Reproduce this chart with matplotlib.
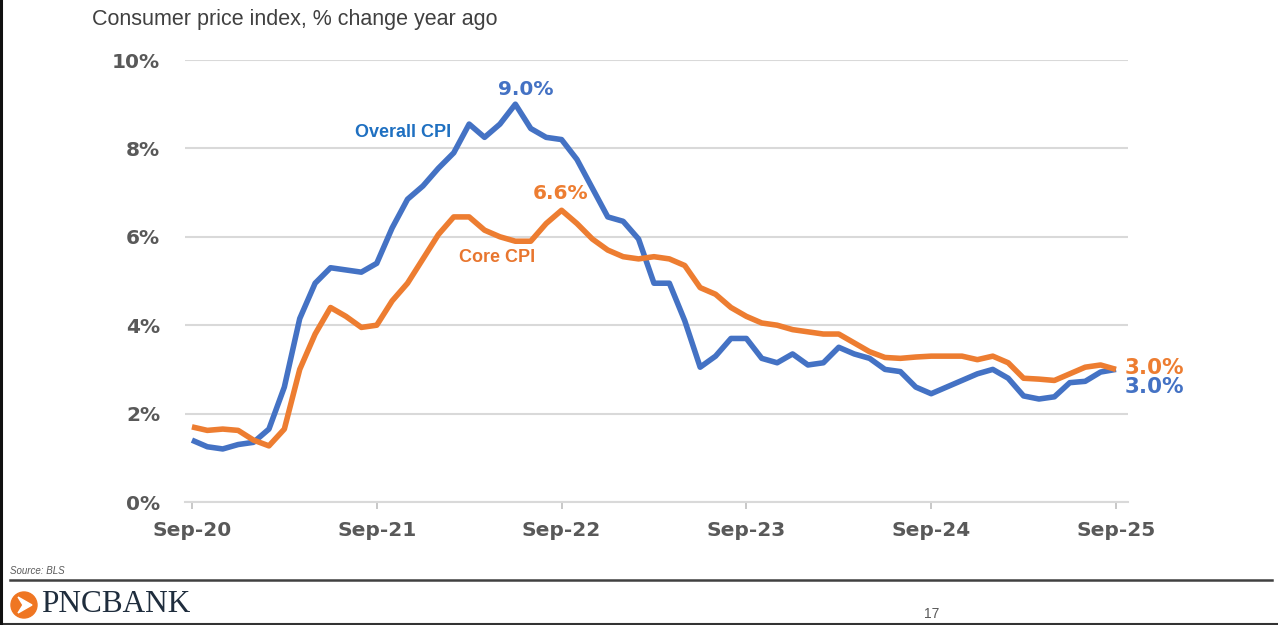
import matplotlib
matplotlib.use("Agg")
import matplotlib.pyplot as plt
from matplotlib.patches import Ellipse, Polygon
from matplotlib.lines import Line2D

# ---------------- data ----------------
months = [f"{m}-{y}" for y in range(20, 26) for m in
          ["Jan", "Feb", "Mar", "Apr", "May", "Jun", "Jul", "Aug", "Sep", "Oct", "Nov", "Dec"]]
months = months[8:8 + 61]  # Sep-20 .. Sep-25

overall_cpi = [1.4, 1.25, 1.2, 1.3, 1.35, 1.65, 2.6, 4.15, 4.95, 5.3, 5.25, 5.2,
               5.4, 6.2, 6.85, 7.15, 7.55, 7.9, 8.55, 8.25, 8.55, 9.0, 8.45, 8.25,
               8.2, 7.75, 7.1, 6.45, 6.35, 5.95, 4.95, 4.95, 4.1, 3.05, 3.3, 3.7,
               3.7, 3.25, 3.15, 3.35, 3.1, 3.15, 3.5, 3.35, 3.25, 3.0, 2.95, 2.6,
               2.45, 2.6, 2.75, 2.9, 3.0, 2.8, 2.4, 2.33, 2.38, 2.7, 2.73, 2.94,
               3.0]
core_cpi = [1.7, 1.62, 1.65, 1.62, 1.4, 1.27, 1.65, 3.0, 3.8, 4.4, 4.2, 3.95,
            4.0, 4.55, 4.95, 5.5, 6.05, 6.45, 6.45, 6.15, 6.0, 5.9, 5.9, 6.3,
            6.6, 6.3, 5.95, 5.7, 5.55, 5.5, 5.55, 5.5, 5.35, 4.85, 4.7, 4.4,
            4.2, 4.05, 4.0, 3.9, 3.85, 3.8, 3.8, 3.6, 3.4, 3.27, 3.25, 3.28,
            3.3, 3.3, 3.3, 3.22, 3.3, 3.15, 2.8, 2.78, 2.75, 2.9, 3.05, 3.1,
            3.0]

x_tick_labels = ["Sep-20", "Sep-21", "Sep-22", "Sep-23", "Sep-24", "Sep-25"]
y_ticks = [0, 2, 4, 6, 8, 10]
y_tick_labels = ["0%", "2%", "4%", "6%", "8%", "10%"]

BLUE = "#4472C4"
ORANGE = "#ED7D31"
LABEL_GRAY = "#595959"

# ---------------- figure ----------------
fig = plt.figure(figsize=(12.78, 6.25), dpi=100)
W, H = 1278, 625
ax = fig.add_axes([185 / W, (H - 502) / H, (1128 - 185) / W, (502 - 60) / H])

xs = list(range(len(months)))
ax.plot(xs, overall_cpi, color=BLUE, lw=4.0, solid_joinstyle="round",
        solid_capstyle="butt", zorder=3, clip_on=False)
ax.plot(xs, core_cpi, color=ORANGE, lw=4.0, solid_joinstyle="round",
        solid_capstyle="butt", zorder=4, clip_on=False)

ax.set_xlim(-0.45, 60.78)
ax.set_ylim(0, 10)
ax.set_yticks(y_ticks)
ax.set_yticklabels(y_tick_labels)
tick_pos = [months.index(t) for t in x_tick_labels]
ax.set_xticks(tick_pos)
ax.set_xticklabels(x_tick_labels)

ax.grid(axis="y", color="#D9D9D9", lw=1.5, zorder=0)
for s in ["top", "right", "left"]:
    ax.spines[s].set_visible(False)
ax.spines["bottom"].set_color("#D9D9D9")
ax.spines["bottom"].set_linewidth(1.5)
ax.tick_params(axis="y", length=0, pad=18, labelsize=14.5, labelcolor=LABEL_GRAY)
ax.tick_params(axis="x", length=5, width=1.2, color="#BFBFBF", pad=9,
               labelsize=14.5, labelcolor=LABEL_GRAY)
for lab in ax.get_xticklabels() + ax.get_yticklabels():
    lab.set_fontweight("bold")
    lab.set_family("DejaVu Sans")

# annotations
ax.text(21.7, 9.33, "9.0%", color=BLUE, fontsize=14.5, fontweight="bold",
        ha="center", va="center", family="DejaVu Sans")
ax.text(13.7, 8.35, "Overall CPI", color="#1F70C1", fontsize=13, fontweight="bold",
        ha="center", va="center", family="Liberation Sans")
ax.text(23.96, 6.99, "6.6%", color=ORANGE, fontsize=14.5, fontweight="bold",
        ha="center", va="center", family="DejaVu Sans")
ax.text(19.8, 5.54, "Core CPI", color="#E8762F", fontsize=13, fontweight="bold",
        ha="center", va="center", family="Liberation Sans")
ax.text(60.55, 3.03, "3.0%", color=ORANGE, fontsize=15.5, fontweight="bold",
        ha="left", va="center", family="DejaVu Sans")
ax.text(60.55, 2.6, "3.0%", color=BLUE, fontsize=15.5, fontweight="bold",
        ha="left", va="center", family="DejaVu Sans")

# title
fig.text(92 / W, 1 - 20 / H, "Consumer price index, % change year ago",
         fontsize=15.5, color="#404040", family="Liberation Sans",
         ha="left", va="center")

# footer
fig.text(10 / W, 1 - 571 / H, "Source: BLS", fontsize=7, style="italic",
         color="#595959", family="Liberation Sans", ha="left", va="center")
fig.add_artist(Line2D([10 / W, 1272 / W], [1 - 580 / H, 1 - 580 / H],
                      color="#404040", lw=1.8, transform=fig.transFigure))
fig.add_artist(Line2D([0, 1], [1 - 623.5 / H, 1 - 623.5 / H],
                      color="#333333", lw=1.5, transform=fig.transFigure))
fig.add_artist(Line2D([1 / W, 1 / W], [0, 1],
                      color="#111111", lw=2.2, transform=fig.transFigure))

# PNC logo (orange disc with white chevron)
cx, cy, r = 24, 605, 13
fig.add_artist(Ellipse((cx / W, 1 - cy / H), 2 * r / W, 2 * r / H,
                       color="#EF7622", transform=fig.transFigure))
fig.add_artist(Polygon([((cx - 6) / W, 1 - (cy - 8) / H),
                        ((cx + 8) / W, 1 - cy / H),
                        ((cx - 6) / W, 1 - (cy + 8) / H),
                        ((cx - 1) / W, 1 - cy / H)],
                       closed=True, color="white", transform=fig.transFigure))
fig.text(41 / W, 1 - 605 / H, "PNCBANK", fontsize=22.5, color="#1F2D3D",
         family="Liberation Serif", ha="left", va="center")

fig.text(932 / W, 1 - 614 / H, "17", fontsize=10, color="#595959",
         family="Liberation Sans", ha="center", va="center")

fig.savefig("out.png", dpi=100, facecolor="white")
